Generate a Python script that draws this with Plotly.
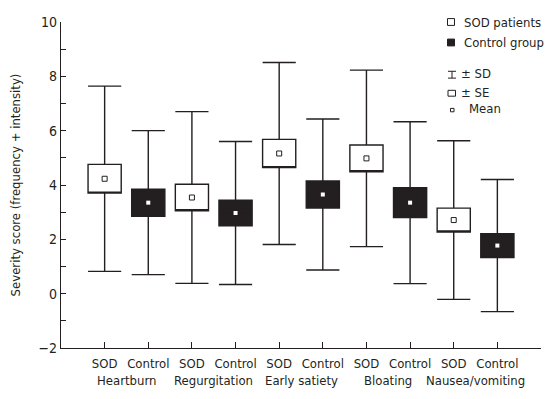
import plotly.graph_objects as go

groups = ["Heartburn", "Regurgitation", "Early satiety", "Bloating", "Nausea/vomiting"]
sod_mean = [4.23, 3.54, 5.16, 4.98, 2.71]
sod_sd = [3.41, 3.16, 3.35, 3.25, 2.92]
sod_se = [0.53, 0.49, 0.52, 0.49, 0.44]
ctl_mean = [3.35, 2.97, 3.65, 3.35, 1.77]
ctl_sd = [2.65, 2.63, 2.78, 2.98, 2.43]
ctl_se = [0.50, 0.47, 0.50, 0.55, 0.44]
sub_labels = ["SOD", "Control"]
y_ticks = [-2, 0, 2, 4, 6, 8, 10]

FONT = "DejaVu Sans Condensed, DejaVu Sans"
BLACK = "#231f20"
LW = 1.4
FS = 13

sod_x = [2 * i + 1 for i in range(len(groups))]
ctl_x = [2 * i + 2 for i in range(len(groups))]

fig = go.Figure()

def add_box(xs, mean, sd, se, fill, med):
    fig.add_trace(go.Box(
        x=xs,
        q1=[m - s for m, s in zip(mean, se)],
        median=med,
        q3=[m + s for m, s in zip(mean, se)],
        lowerfence=[m - s for m, s in zip(mean, sd)],
        upperfence=[m + s for m, s in zip(mean, sd)],
        width=0.76, whiskerwidth=1,
        fillcolor=fill, line=dict(color=BLACK, width=LW),
        boxpoints=False, showlegend=False, hoverinfo="skip",
    ))

add_box(sod_x, sod_mean, sod_sd, sod_se, "white",
        [m - s for m, s in zip(sod_mean, sod_se)])
add_box(ctl_x, ctl_mean, ctl_sd, ctl_se, BLACK, ctl_mean)

fig.add_trace(go.Scatter(
    x=sod_x, y=sod_mean, mode="markers",
    marker=dict(symbol="square", size=5, color="white", line=dict(color=BLACK, width=1)),
    showlegend=False, hoverinfo="skip"))
fig.add_trace(go.Scatter(
    x=ctl_x, y=ctl_mean, mode="markers",
    marker=dict(symbol="square", size=4, color="white", line=dict(width=0)),
    showlegend=False, hoverinfo="skip"))

# The page body has an 8px margin, so the figure sits at (8, 8) in the window.
OFF = 8
W, H = 555 - OFF, 399 - OFF
# plot-area in window pixels: x 61..541, y 14..348
L = 61 - OFF
T = 14 - OFF
R = W - (541 - OFF)
B = H - (348 - OFF)
PW, PH = W - L - R, H - T - B

def px(x):  # window px -> paper
    return (x - OFF - L) / PW

def py(y):
    return (H - B - (y - OFF)) / PH

shapes = []
shapes.append(dict(type="rect", xref="paper", yref="paper", x0=px(447.5), x1=px(454.5), y0=py(17.5), y1=py(10.5),
                   line=dict(color=BLACK, width=1), fillcolor="white"))
shapes.append(dict(type="rect", xref="paper", yref="paper", x0=px(447.5), x1=px(454.5), y0=py(38.5), y1=py(31.5),
                   line=dict(color=BLACK, width=1), fillcolor=BLACK))
shapes.append(dict(type="line", xref="paper", yref="paper", x0=px(448), x1=px(456), y0=py(64.5), y1=py(64.5),
                   line=dict(color=BLACK, width=1)))
shapes.append(dict(type="line", xref="paper", yref="paper", x0=px(452), x1=px(452), y0=py(64.5), y1=py(71.5),
                   line=dict(color=BLACK, width=1)))
shapes.append(dict(type="line", xref="paper", yref="paper", x0=px(448), x1=px(456), y0=py(71.5), y1=py(71.5),
                   line=dict(color=BLACK, width=1)))
shapes.append(dict(type="rect", xref="paper", yref="paper", x0=px(448), x1=px(455.5), y0=py(90), y1=py(84),
                   line=dict(color=BLACK, width=1), fillcolor="white"))
shapes.append(dict(type="rect", xref="paper", yref="paper", x0=px(450.5), x1=px(454), y0=py(106), y1=py(102.5),
                   line=dict(color=BLACK, width=1), fillcolor="white"))

annotations = []
def legend_text(text, x, y):
    annotations.append(dict(text=text, xref="paper", yref="paper", x=px(x), y=py(y),
                            xanchor="left", yanchor="middle", showarrow=False,
                            font=dict(family=FONT, size=FS, color=BLACK)))

legend_text("SOD patients", 462, 14)
legend_text("Control group", 462, 35)
legend_text("± SD", 459, 67)
legend_text("± SE", 459, 86)
legend_text("Mean", 467, 103)

for i, g in enumerate(groups):
    annotations.append(dict(text=g, x=2 * i + 1.5, xref="x", y=0, yref="paper", yshift=-32,
                            xanchor="center", yanchor="middle", showarrow=False,
                            font=dict(family=FONT, size=FS, color=BLACK)))

tickvals = sod_x + ctl_x + [2 * len(groups) + 1]
ticktext = [sub_labels[0]] * len(sod_x) + [sub_labels[1]] * len(ctl_x) + [""]

fig.update_layout(
    width=W, height=H,
    margin=dict(l=L, r=R, t=T, b=B, pad=0),
    paper_bgcolor="white", plot_bgcolor="white",
    boxmode="overlay",
    font=dict(family=FONT, size=FS, color=BLACK),
    shapes=shapes, annotations=annotations,
    xaxis=dict(range=[0, 2 * len(groups) + 1], tickvals=tickvals, ticktext=ticktext,
               ticks="inside", ticklen=6, tickwidth=LW, tickcolor=BLACK,
               showline=True, linecolor=BLACK, linewidth=LW, ticklabelstandoff=3,
               showgrid=False, zeroline=False, tickfont=dict(family=FONT, size=FS, color=BLACK)),
    yaxis=dict(range=[-2, 10], tickvals=y_ticks,
               ticks="inside", ticklen=5, tickwidth=LW, tickcolor=BLACK,
               minor=dict(dtick=1, ticks="inside", ticklen=5, tickwidth=LW, tickcolor=BLACK, showgrid=False),
               showline=True, linecolor=BLACK, linewidth=LW,
               showgrid=False, zeroline=False, ticklabeloverflow="allow",
               tickfont=dict(family=FONT, size=14, color=BLACK),
               title=dict(text="Severity score (frequency + intensity)",
                          font=dict(family=FONT, size=FS, color=BLACK), standoff=14)),
)

fig.write_html("out.html")
